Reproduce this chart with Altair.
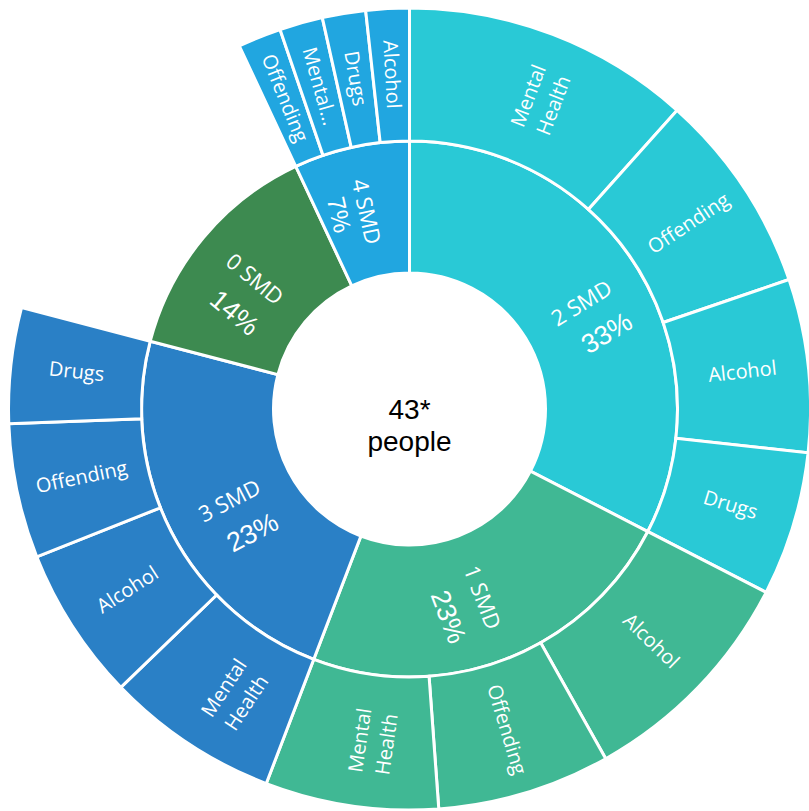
import altair as alt
import numpy as np
import pandas as pd

# Inner ring: number of people by count of severe multiple disadvantages (clockwise from 12 o'clock)
groups = ["2 SMD", "1 SMD", "3 SMD", "0 SMD", "4 SMD"]
group_people = [14, 10, 10, 6, 3]
group_colors = ["#29C9D6", "#40B894", "#2A80C6", "#3D8A50", "#21A6E0"]

# Outer ring: disadvantage domains within each group (clockwise order)
outer_group = ["2 SMD"] * 4 + ["1 SMD"] * 3 + ["3 SMD"] * 4 + ["4 SMD"] * 4
outer_domain = [
    "Mental Health", "Offending", "Alcohol", "Drugs",
    "Alcohol", "Offending", "Mental Health",
    "Mental Health", "Alcohol", "Offending", "Drugs",
    "Offending", "Mental Health", "Drugs", "Alcohol",
]
outer_count = [10, 7, 6, 5, 4, 3, 3, 9, 8, 7, 6, 3, 3, 3, 3]
outer_label = [
    "Mental\nHealth", "Offending", "Alcohol", "Drugs",
    "Alcohol", "Offending", "Mental\nHealth",
    "Mental\nHealth", "Alcohol", "Offending", "Drugs",
    "Offending", "Mental…", "Drugs", "Alcohol",
]

total = sum(group_people)
CX, CY = 409.5, 409
R_HOLE, R_MID, R_OUT = 136, 268, 401


def reading_angle(mid_value):
    """Rotate labels along the radius, flipped on the left half to stay readable."""
    deg = mid_value / total * 360.0
    rot = deg - 90 if deg < 180 else deg - 270
    return rot % 360


inner = pd.DataFrame({"group": groups, "people": group_people})
inner["end"] = inner["people"].cumsum()
inner["start"] = inner["end"] - inner["people"]
inner["mid"] = (inner["start"] + inner["end"]) / 2
inner["rot"] = inner["mid"].apply(reading_angle)
inner["pct"] = (inner["people"] / total * 100).round().astype(int).astype(str) + "%"

outer = pd.DataFrame({"group": outer_group, "domain": outer_domain,
                      "count": outer_count, "label": outer_label})
g = inner.set_index("group")
group_sum = outer.groupby("group")["count"].transform("sum")
cum_before = outer.groupby("group")["count"].cumsum() - outer["count"]
share_start = cum_before / group_sum
share_end = (cum_before + outer["count"]) / group_sum
outer["start"] = outer["group"].map(g["start"]) + share_start * outer["group"].map(g["people"])
outer["end"] = outer["group"].map(g["start"]) + share_end * outer["group"].map(g["people"])
outer["mid"] = (outer["start"] + outer["end"]) / 2
outer["rot"] = outer["mid"].apply(reading_angle)

theta_scale = alt.Scale(domain=[0, total], range=[0, 2 * np.pi])
color_scale = alt.Scale(domain=groups, range=group_colors)
cx, cy = alt.value(CX), alt.value(CY)

inner_arcs = alt.Chart(inner).mark_arc(
    innerRadius=R_HOLE, outerRadius=R_MID, stroke="white", strokeWidth=3
).encode(
    theta=alt.Theta("start:Q", scale=theta_scale, stack=None),
    theta2="end:Q",
    color=alt.Color("group:N", scale=color_scale, legend=None),
    x=cx, y=cy,
)

outer_arcs = alt.Chart(outer).mark_arc(
    innerRadius=R_MID, outerRadius=R_OUT, stroke="white", strokeWidth=3
).encode(
    theta=alt.Theta("start:Q", scale=theta_scale, stack=None),
    theta2="end:Q",
    color=alt.Color("group:N", scale=color_scale, legend=None),
    x=cx, y=cy,
)

name_font = "Open Sans"
pct_font = "Liberation Sans"

inner_names = alt.Chart(inner).mark_text(
    radius=202, font=name_font, fontSize=22, color="white",
    align="center", baseline="middle",
).encode(
    theta=alt.Theta("mid:Q", scale=theta_scale, stack=None),
    angle=alt.Angle("rot:Q", scale=None),
    text="group:N",
    x=cx, y=cy,
)

inner_pcts = alt.Chart(inner).transform_filter(
    alt.datum.group != "4 SMD"
).mark_text(
    radius=202, font=pct_font, fontSize=27, color="white",
    align="center", baseline="middle", dx=6, dy=39,
).encode(
    theta=alt.Theta("mid:Q", scale=theta_scale, stack=None),
    angle=alt.Angle("rot:Q", scale=None),
    text="pct:N",
    x=cx, y=cy,
)

narrow_pct = alt.Chart(inner).transform_filter(
    alt.datum.group == "4 SMD"
).mark_text(
    radius=202, font=pct_font, fontSize=25, color="white",
    align="center", baseline="middle", dx=-3, dy=27,
).encode(
    theta=alt.Theta("mid:Q", scale=theta_scale, stack=None),
    angle=alt.Angle("rot:Q", scale=None),
    text="pct:N",
    x=cx, y=cy,
)

outer_texts = alt.Chart(outer).mark_text(
    radius=335, font=name_font, fontSize=20, color="white",
    align="center", baseline="middle", lineBreak="\n", lineHeight=27,
).encode(
    theta=alt.Theta("mid:Q", scale=theta_scale, stack=None),
    angle=alt.Angle("rot:Q", scale=None),
    text="label:N",
    x=cx, y=cy,
)

center = alt.Chart(pd.DataFrame({"t": [f"{total}*\npeople"]})).mark_text(
    font=pct_font, fontSize=28, color="black", align="center",
    baseline="middle", lineBreak="\n", lineHeight=32,
).encode(text="t:N", x=alt.value(CX), y=alt.value(CY + 2))

chart = alt.layer(
    inner_arcs, outer_arcs, inner_names, inner_pcts, narrow_pct, outer_texts, center
).properties(
    width=809, height=811, padding=0, autosize="none", background="white"
).configure_view(stroke=None)

chart.save("out.html", embed_options={"renderer": "svg", "actions": False})
